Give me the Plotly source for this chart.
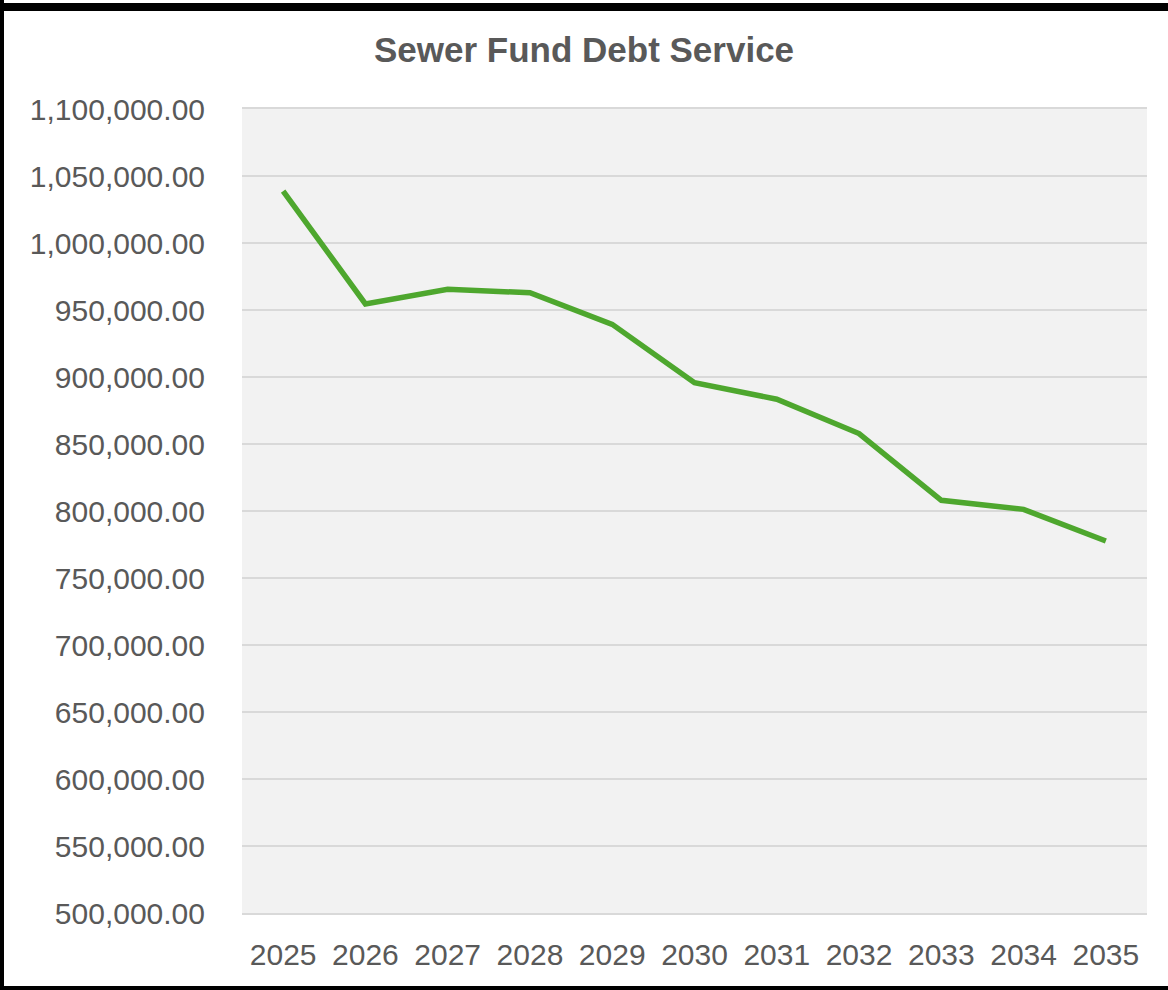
import plotly.graph_objects as go

years = ["2025", "2026", "2027", "2028", "2029", "2030", "2031", "2032", "2033", "2034", "2035"]
debt_service = [1038800, 954500, 965400, 962900, 939300, 895800, 883400, 857800, 808000, 801200, 777600]

y_ticks = [500000 + 50000 * i for i in range(13)]

W, H = 1168, 990
ML, MR, MT, MB = 242, 21, 109, 77
pw, ph = W - ML - MR, H - MT - MB

def px_x(p):
    return (p - ML) / pw

def px_y(p):
    return (H - MB - p) / ph

fig = go.Figure()
fig.add_trace(go.Scatter(
    x=years, y=debt_service, mode="lines",
    line=dict(color="#4EA72E", width=5.5),
    hoverinfo="x+y",
))

frame = [
    (0, 0, 4, H),          # left bar
    (0, 3, W, 11),         # top bar
    (0, 986, W, H),        # bottom bar
]
shapes = []
for x0, y0, x1, y1 in frame:
    shapes.append(dict(type="rect", xref="paper", yref="paper",
                       x0=px_x(x0), x1=px_x(x1), y0=px_y(y1), y1=px_y(y0),
                       fillcolor="black", line=dict(width=0), layer="above"))

fig.update_layout(
    width=W, height=H,
    margin=dict(l=ML, r=MR, t=MT, b=MB),
    paper_bgcolor="white",
    plot_bgcolor="#F2F2F2",
    showlegend=False,
    title=dict(text="<b>Sewer Fund Debt Service</b>", x=0.5, xref="container", xanchor="center",
               y=1 - 50 / H, yref="container", yanchor="middle",
               font=dict(family="Liberation Sans, Arial, sans-serif", size=35, color="#595959")),
    font=dict(family="Liberation Sans, Arial, sans-serif", size=30, color="#595959"),
    shapes=shapes,
    xaxis=dict(type="category", range=[-0.5, 10.5], showgrid=False, zeroline=False,
               showline=True, mirror=True, linecolor="#D9D9D9", linewidth=1.5,
               ticks="", ticklabelstandoff=14,
               tickfont=dict(size=30, color="#595959")),
    yaxis=dict(range=[500000, 1100000], tickvals=y_ticks, tickformat=",.2f",
               showgrid=True, gridcolor="#D9D9D9", gridwidth=1.5, zeroline=False,
               showline=False, ticks="", ticklabelstandoff=36,
               tickfont=dict(size=30, color="#595959")),
)

fig.write_html("out.html", config={"displayModeBar": False},
               post_script="document.body.style.margin='0';document.body.style.overflow='hidden';")
